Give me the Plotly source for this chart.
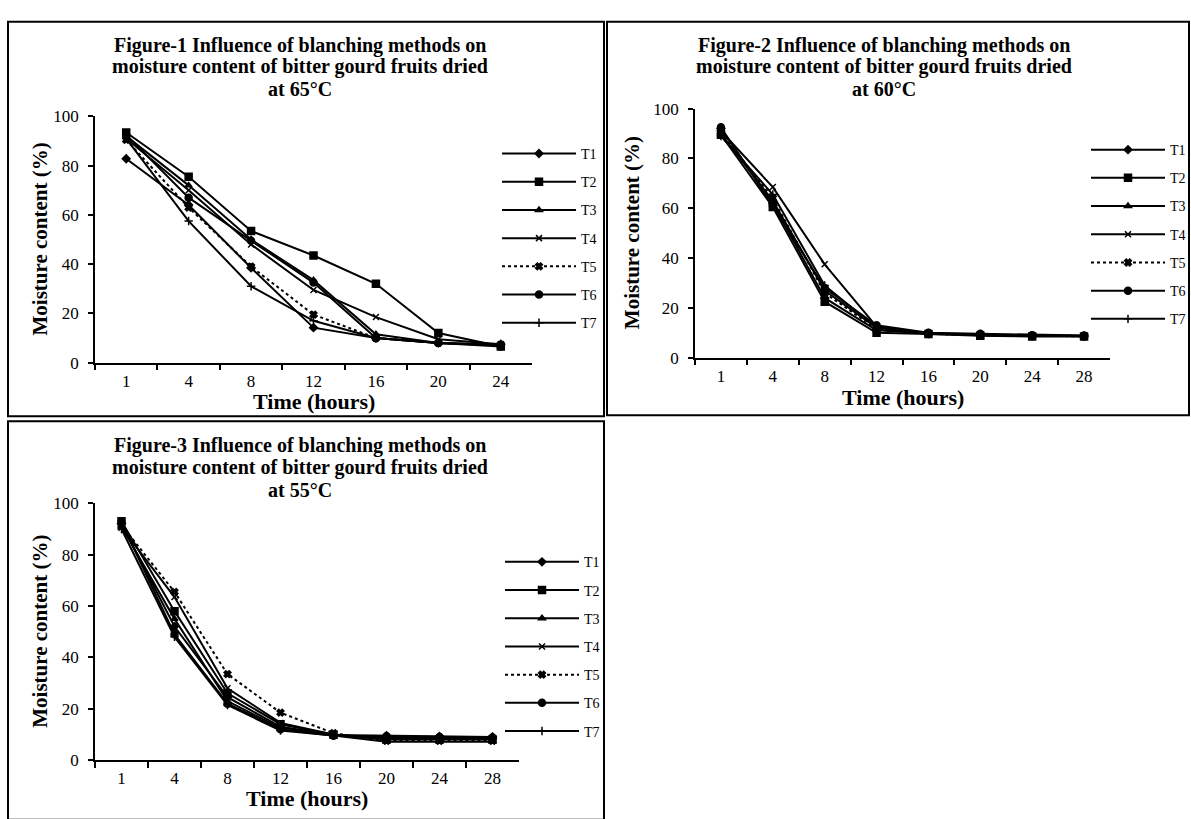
import plotly.graph_objects as go

W, H = 1191, 819

times_65 = ["1", "4", "8", "12", "16", "20", "24"]
times_60 = ["1", "4", "8", "12", "16", "20", "24", "28"]
times_55 = ["1", "4", "8", "12", "16", "20", "24", "28"]

treatments = ["T1", "T2", "T3", "T4", "T5", "T6", "T7"]

# Figure-1 (65 °C)
f65_T1 = [82.8, 64.0, 38.5, 14.2, 10.0, 8.0, 7.5]
f65_T2 = [93.5, 75.5, 53.5, 43.5, 32.0, 12.0, 6.5]
f65_T3 = [92.0, 72.0, 50.0, 33.5, 11.5, 8.0, 7.0]
f65_T4 = [91.0, 70.0, 48.0, 29.5, 18.5, 9.5, 7.5]
f65_T5 = [90.5, 63.0, 39.0, 19.5, 10.0, 8.0, 7.0]
f65_T6 = [92.5, 67.0, 49.5, 32.5, 10.0, 8.0, 6.5]
f65_T7 = [91.0, 57.5, 31.0, 17.0, 10.0, 8.0, 7.0]

# Figure-2 (60 °C)
f60_T1 = [92.0, 62.0, 24.0, 11.0, 9.7, 9.2, 8.8, 8.7]
f60_T2 = [89.5, 60.5, 22.5, 10.0, 9.5, 8.8, 8.5, 8.5]
f60_T3 = [90.0, 63.0, 27.0, 12.0, 9.8, 9.0, 8.8, 8.7]
f60_T4 = [91.0, 68.5, 37.5, 12.5, 9.7, 9.3, 9.0, 8.8]
f60_T5 = [90.5, 64.0, 26.0, 11.5, 9.6, 9.0, 8.8, 8.6]
f60_T6 = [92.5, 61.0, 28.0, 13.0, 10.0, 9.6, 9.0, 8.9]
f60_T7 = [89.0, 65.5, 29.0, 12.0, 9.5, 9.2, 8.7, 8.6]

# Figure-3 (55 °C)
f55_T1 = [92.0, 52.0, 24.5, 13.0, 9.8, 9.5, 9.2, 9.0]
f55_T2 = [93.0, 58.0, 26.0, 14.0, 9.9, 8.0, 8.0, 8.0]
f55_T3 = [91.0, 55.0, 23.0, 12.5, 9.6, 7.2, 7.2, 7.2]
f55_T4 = [90.5, 63.5, 28.0, 14.5, 10.0, 8.5, 8.3, 8.2]
f55_T5 = [91.5, 65.5, 33.5, 18.5, 10.5, 7.5, 7.5, 7.5]
f55_T6 = [92.5, 49.0, 22.0, 12.0, 9.5, 9.3, 9.0, 8.8]
f55_T7 = [90.0, 48.0, 21.5, 11.5, 9.6, 9.0, 8.5, 8.3]

y_ticks = [0, 20, 40, 60, 80, 100]

title_lines = [
    ["Figure-1 Influence of blanching methods on", "moisture content of bitter gourd fruits dried", "at 65°C"],
    ["Figure-2 Influence of blanching methods on", "moisture content of bitter gourd fruits dried", "at 60°C"],
    ["Figure-3 Influence of blanching methods on", "moisture content of bitter gourd fruits dried", "at 55°C"],
]
x_title = "Time (hours)"
y_title = "Moisture content (%)"

symbols = ["diamond", "square", "triangle-up", "x-thin", "x", "circle", "cross-thin"]
sizes = [6, 7, 6, 6, 6, 7, 6]
dashes = ["solid", "solid", "solid", "solid", "dot", "solid", "solid"]

FONT = "Liberation Serif, Times New Roman, serif"


def px_x(v):
    return v / W


def px_y(v):
    return 1 - v / H


panels = [
    dict(times=times_65, data=[f65_T1, f65_T2, f65_T3, f65_T4, f65_T5, f65_T6, f65_T7],
         plot=(95, 532, 110, 362), box=(8, 13, 604, 417),
         legend=dict(x=px_x(497), y=px_y(132), xanchor="left"),
         title_x=300, title_y=(37, 59, 82), ytitle_x=40, xtitle_y=402),
    dict(times=times_60, data=[f60_T1, f60_T2, f60_T3, f60_T4, f60_T5, f60_T6, f60_T7],
         plot=(695, 1110, 102, 357), box=(607, 13, 1189, 416),
         legend=dict(x=1.0, y=px_y(128), xanchor="right"),
         title_x=884, title_y=(37, 59, 82), ytitle_x=632, xtitle_y=398),
    dict(times=times_55, data=[f55_T1, f55_T2, f55_T3, f55_T4, f55_T5, f55_T6, f55_T7],
         plot=(95, 519, 506, 769), box=(8, 422, 604, 830),
         legend=dict(x=px_x(500), y=px_y(550), xanchor="left"),
         title_x=300, title_y=(447, 469, 492), ytitle_x=40, xtitle_y=808),
]

fig = go.Figure()
layout = dict(
    width=W, height=H, margin=dict(l=0, r=0, t=0, b=0),
    paper_bgcolor="white", plot_bgcolor="white",
    font=dict(family=FONT, color="black"),
    shapes=[], annotations=[],
)

for i, p in enumerate(panels):
    sfx = "" if i == 0 else str(i + 1)
    xa, ya = "x" + sfx, "y" + sfx
    lg = "legend" + sfx
    for k, (name, vals) in enumerate(zip(treatments, p["data"])):
        fig.add_trace(go.Scatter(
            x=p["times"], y=vals, name=name, mode="lines+markers",
            xaxis=xa, yaxis=ya, legend=lg, legendgroup=f"p{i}{name}",
            line=dict(color="black", width=2, dash=dashes[k]),
            marker=dict(symbol=symbols[k], size=sizes[k], color="black",
                        line=dict(color="black", width=1.5)),
        ))
    x0, x1, y0, y1 = p["plot"]
    layout["xaxis" + sfx] = dict(
        domain=[px_x(x0), px_x(x1)], anchor=ya, type="category",
        range=[-0.5, len(p["times"]) - 0.5],
        showline=True, linecolor="black", linewidth=1.5,
        ticks="outside", tickson="boundaries", ticklen=6, tickwidth=1.5, tickcolor="black",
        tickfont=dict(family=FONT, size=17, color="black"),
        ticklabelstandoff=2,
        showgrid=False, zeroline=False, fixedrange=True,
    )
    layout["yaxis" + sfx] = dict(
        domain=[px_y(y1), px_y(y0)], anchor=xa, range=[0, 100],
        tickvals=y_ticks, showline=True, linecolor="black", linewidth=1.5,
        ticks="outside", ticklen=5, tickwidth=1.5, tickcolor="black",
        tickfont=dict(family=FONT, size=17, color="black"),
        ticklabelstandoff=6,
        showgrid=False, zeroline=False, fixedrange=True,
    )
    leg = dict(p["legend"])
    leg.update(
        yanchor="top",
        font=dict(family=FONT, size=14, color="black"),
        bgcolor="rgba(0,0,0,0)", borderwidth=0,
        itemwidth=74, tracegroupgap=7, itemclick=False, itemdoubleclick=False,
    )
    layout[lg] = leg
    bx0, by0, bx1, by1 = p["box"]
    layout["shapes"].append(dict(
        type="rect", xref="paper", yref="paper",
        x0=px_x(bx0), x1=px_x(bx1), y0=px_y(by1), y1=px_y(by0),
        line=dict(color="black", width=2), fillcolor="rgba(0,0,0,0)",
    ))
    for line_text, ty in zip(title_lines[i], p["title_y"]):
        layout["annotations"].append(dict(
            text="<b>" + line_text + "</b>", xref="paper", yref="paper",
            x=px_x(p["title_x"]), y=px_y(ty), xanchor="center", yanchor="middle",
            showarrow=False, font=dict(family=FONT, size=20, color="black"),
        ))
    layout["annotations"].append(dict(
        text="<b>" + x_title + "</b>", xref="paper", yref="paper",
        x=px_x((x0 + x1) / 2), y=px_y(p["xtitle_y"]), xanchor="center", yanchor="middle",
        showarrow=False, font=dict(family=FONT, size=22, color="black"),
    ))
    layout["annotations"].append(dict(
        text="<b>" + y_title + "</b>", xref="paper", yref="paper",
        x=px_x(p["ytitle_x"]), y=px_y((y0 + y1) / 2), xanchor="center", yanchor="middle",
        textangle=-90, showarrow=False, font=dict(family=FONT, size=21, color="black"),
    ))

fig.update_layout(**layout)
fig.write_html(
    "out.html",
    config={"displayModeBar": False},
    post_script="document.body.style.margin='0';document.body.style.overflow='hidden';",
)
